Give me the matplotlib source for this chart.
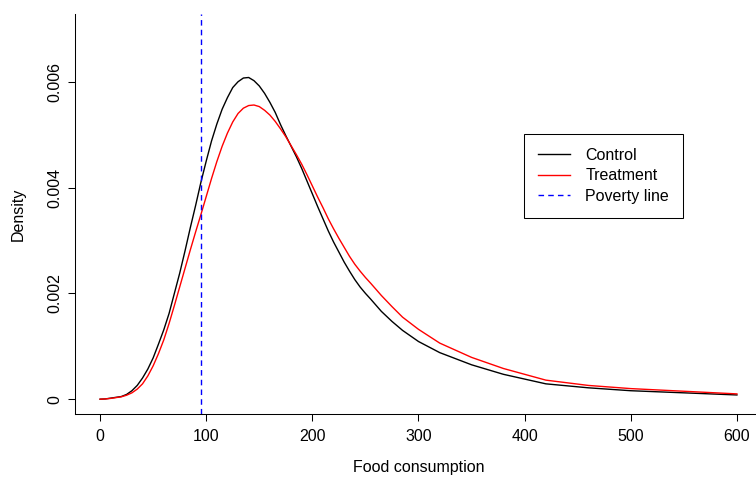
import matplotlib.pyplot as plt
import numpy as np

# Values (density in units of 1e-3)
food = [0, 5, 10, 15, 20, 25, 30, 35, 40, 45, 50, 55, 60, 65, 70, 75, 80, 85,
        90, 95, 100, 105, 110, 115, 120, 125, 130, 135, 140, 145, 150, 155,
        160, 165, 170, 175, 180, 185, 190, 195, 200, 205, 210, 215, 220, 225,
        230, 235, 240, 245, 250, 255, 265, 275, 285, 300, 320, 350, 380, 420,
        460, 500, 550, 600]
control = [0, 0.005, 0.02, 0.035, 0.05, 0.09, 0.16, 0.26, 0.40, 0.57, 0.78,
           1.04, 1.31, 1.62, 2.00, 2.38, 2.80, 3.24, 3.66, 4.10, 4.50, 4.88,
           5.20, 5.48, 5.70, 5.89, 6.00, 6.07, 6.08, 6.02, 5.92, 5.78, 5.61,
           5.42, 5.19, 4.98, 4.78, 4.58, 4.36, 4.12, 3.88, 3.64, 3.41, 3.18,
           2.97, 2.78, 2.59, 2.42, 2.26, 2.12, 2.00, 1.89, 1.66, 1.47, 1.30,
           1.09, 0.88, 0.65, 0.47, 0.29, 0.215, 0.16, 0.12, 0.08]
treatment = [0, 0.005, 0.015, 0.03, 0.045, 0.075, 0.12, 0.19, 0.29, 0.44, 0.63,
             0.86, 1.12, 1.43, 1.77, 2.12, 2.47, 2.82, 3.16, 3.49, 3.83, 4.17,
             4.49, 4.78, 5.03, 5.24, 5.40, 5.50, 5.55, 5.56, 5.53, 5.46, 5.37,
             5.25, 5.11, 4.96, 4.79, 4.62, 4.44, 4.24, 4.03, 3.82, 3.62, 3.41,
             3.22, 3.04, 2.87, 2.70, 2.55, 2.42, 2.30, 2.19, 1.96, 1.75, 1.55,
             1.32, 1.06, 0.79, 0.58, 0.36, 0.26, 0.20, 0.15, 0.10]
poverty_line = 95
x_ticks = [0, 100, 200, 300, 400, 500, 600]
y_ticks = [0, 0.002, 0.004, 0.006]
y_tick_labels = ['0', '0.002', '0.004', '0.006']

plt.rcParams['font.family'] = ['Liberation Sans', 'DejaVu Sans']
plt.rcParams['font.size'] = 11.5

W, H = 756, 479
fig = plt.figure(figsize=(W / 100, H / 100), dpi=100)
# plot region runs past the right edge, like the cropped R device
left, right, top, bottom = 74.6, 762.4, 14, 414
ax = fig.add_axes([left / W, 1 - bottom / H, (right - left) / W, (bottom - top) / H])

ax.plot(food, np.array(control) * 1e-3, color='black', lw=1.0, label='Control')
ax.plot(food, np.array(treatment) * 1e-3, color='red', lw=1.0, label='Treatment')
ax.axvline(poverty_line, color='blue', lw=1.0, linestyle=(0, (4, 3)), label='Poverty line')

ax.set_xlim(-24, 624)
ax.set_ylim(-0.00028, 0.00728)
ax.set_xticks(x_ticks)
ax.set_yticks(y_ticks)
ax.set_yticklabels(y_tick_labels, rotation=90, va='center')

for s in ('top', 'right'):
    ax.spines[s].set_visible(False)
for s in ('left', 'bottom'):
    ax.spines[s].set_linewidth(0.75)
ax.tick_params(axis='both', direction='out', length=5, width=0.75, colors='black')
ax.tick_params(axis='x', pad=6)
ax.tick_params(axis='y', pad=4)

ax.set_xlabel('Food consumption')
ax.set_ylabel('Density')
ax.xaxis.set_label_coords(0.5, -(460 - bottom) / (bottom - top))
ax.yaxis.set_label_coords((26 - left) / (right - left), 0.5)

leg = ax.legend(loc='upper left', bbox_to_anchor=(524 / W, 1 - 134 / H),
                bbox_transform=fig.transFigure, borderaxespad=0,
                fancybox=False, edgecolor='black', framealpha=1,
                handlelength=2.0, handletextpad=1.0, borderpad=0.85,
                labelspacing=0.36)
leg.get_frame().set_linewidth(0.75)

plt.savefig('out.png', dpi=100)
